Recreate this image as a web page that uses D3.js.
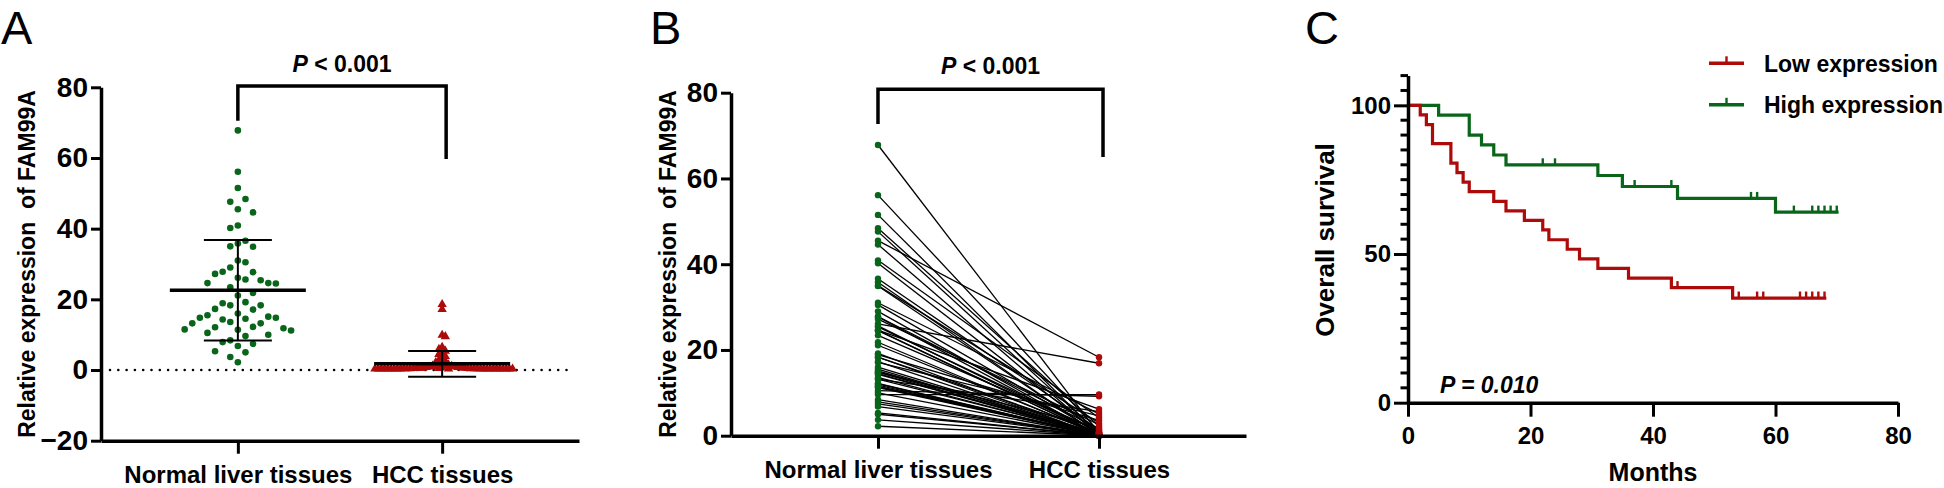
<!DOCTYPE html>
<html>
<head>
<meta charset="utf-8">
<script src="https://cdn.jsdelivr.net/npm/d3@7"></script>
<style>
  body { margin: 0; background: #fff; }
  svg { display: block; font-family: "Liberation Sans", Arial, sans-serif; }
</style>
</head>
<body>
<svg id="chart" width="1944" height="488"></svg>
<script>
// ---- data ----
const categories = ["Normal liver tissues", "HCC tissues"];

// relative expression of FAM99A, normal tissue (one per patient)
const normalValues = [67.8, 56.1, 51.5, 48.4, 47.6, 45.5, 44.6, 40.9, 40.2, 36.6,
  35.8, 35.0, 34.9, 31.0, 30.5, 29.0, 27.8, 27.7, 27.2, 26.1,
  25.6, 25.4, 24.6, 24.6, 24.5, 23.4, 21.8, 21.1, 19.2, 18.9,
  18.3, 18.3, 17.3, 17.1, 16.0, 15.5, 15.1, 14.8, 14.8, 14.5,
  14.3, 13.6, 13.2, 13.2, 12.2, 12.1, 11.8, 11.5, 11.4, 11.2,
  10.5, 10.0, 9.6, 8.4, 7.9, 7.4, 6.8, 5.3, 5.0, 3.7, 2.2];

// paired HCC tissue values (same patient order as normalValues)
const hccValues = [0.5, 1.0, 0.3, 2.2, 0.6, 18.3, 0.2, 4.2, 0.4, 1.4,
  0.1, 3.0, 0.2, 5.1, 0.7, 0.1, 1.6, 0.05, 2.6, 16.9,
  0.3, 0.9, 0.1, 6.2, 0.05, 1.2, 0.2, 0.4, 0.05, 3.6,
  0.1, 0.8, 0.05, 4.6, 0.3, 0.05, 0.6, 0.1, 1.9, 0.05,
  0.5, 0.05, 5.6, 0.2, 0.05, 0.05, 0.05, 0.1, 0.05, 0.05,
  9.2, 0.05, 9.6, 0.05, 0.05, 0.05, 0.05, 0.05, 0.05, 0.05, 0.05];

const yTicksAB = [-20, 0, 20, 40, 60, 80];

// Kaplan-Meier curves (time in months, survival in %)
const lowTimes = [0, 2, 3, 4, 7, 8, 9, 10, 14, 16, 19, 22, 23, 26, 28, 31, 36, 43, 53];
const lowSurv = [100, 96.8, 93.5, 87.1, 80.6, 77.4, 74.2, 71.0, 67.7, 64.5, 61.3, 58.1, 54.8, 51.6, 48.4, 45.2, 41.9, 38.7, 35.2];
const lowCensored = [44, 54, 57, 58, 64, 65, 66, 67, 68];
const lowEnd = 68.3;

const highTimes = [0, 5, 10, 12, 14, 16, 31, 35, 44, 60];
const highSurv = [100, 96.7, 90.0, 86.7, 83.3, 80.0, 76.4, 72.7, 68.7, 64.1];
const highCensored = [22, 24, 37, 43, 56, 57, 63, 66, 67, 68, 69, 70];
const highEnd = 70.3;

const survTicks = [0, 50, 100];
const monthTicks = [0, 20, 40, 60, 80];
const legendLabels = ["Low expression", "High expression"];

const RED = "#ad0a0a";
const GREEN = "#08651a";

const svg = d3.select("#chart");
svg.append("rect").attr("width", 1944).attr("height", 488).attr("fill", "#fff");

function styleAxis(g, size) {
  g.select(".domain").attr("stroke", "#000").attr("stroke-width", 3.5);
  g.selectAll(".tick line").attr("stroke", "#000").attr("stroke-width", 3);
  g.selectAll(".tick text")
    .attr("font-size", size)
    .attr("font-weight", "bold")
    .attr("fill", "#000")
    .attr("font-family", "Liberation Sans, Arial, sans-serif");
}

function panelLetter(x, y, t) {
  svg.append("text").attr("x", x).attr("y", y)
    .attr("font-size", 47).attr("fill", "#000").text(t);
}

function yTitle(x, y, t, size) {
  svg.append("text")
    .attr("transform", `translate(${x},${y}) rotate(-90)`)
    .attr("text-anchor", "middle")
    .attr("font-size", size).attr("font-weight", "bold")
    .style("white-space", "pre")
    .text(t);
}

function pBracket(x1, x2, top, b1, b2, label, labelY) {
  svg.append("path")
    .attr("d", `M${x1},${b1}V${top}H${x2}V${b2}`)
    .attr("fill", "none").attr("stroke", "#000").attr("stroke-width", 3.5);
  const t = svg.append("text").attr("x", (x1 + x2) / 2).attr("y", labelY)
    .attr("text-anchor", "middle").attr("font-size", 23).attr("font-weight", "bold")
    .style("white-space", "pre");
  t.append("tspan").attr("font-style", "italic").text("P");
  t.append("tspan").text(label);
}

// simple column swarm: each point takes the closest free slot to the centre line
function swarm(values, yScale, step, minDy) {
  const order = d3.range(values.length).sort((a, b) => d3.descending(values[a], values[b]));
  const used = [];
  const offs = new Array(values.length);
  let flip = 1;
  order.forEach(i => {
    const y = yScale(values[i]);
    for (let k = 0; k < 200; k++) {
      const cands = k === 0 ? [0] : [k * flip, -k * flip];
      const s = cands.find(c => !used.some(u => u.s === c && Math.abs(u.y - y) < minDy));
      if (s !== undefined) {
        used.push({ s, y });
        offs[i] = s * step;
        if (s !== 0) flip = -flip;
        break;
      }
    }
  });
  return offs;
}

// ================= Panel A =================
{
  const y = d3.scaleLinear().domain([-20, 80]).range([440.7, 87.3]);
  const x = d3.scalePoint().domain(categories).range([101, 579]).padding(0.67);

  panelLetter(1, 44, "A");
  yTitle(35, 264, "Relative expression  of FAM99A", 23);

  // dotted zero line
  svg.append("line")
    .attr("x1", 110).attr("x2", 572).attr("y1", y(0)).attr("y2", y(0))
    .attr("stroke", "#000").attr("stroke-width", 2.6)
    .attr("stroke-linecap", "round").attr("stroke-dasharray", "0,8.3");

  // normal: green dots
  const offN = swarm(normalValues, y, 7.6, 16);
  svg.append("g").selectAll("circle").data(normalValues).join("circle")
    .attr("cx", (d, i) => x(categories[0]) + offN[i])
    .attr("cy", d => y(d)).attr("r", 3.3).attr("fill", GREEN);

  // HCC: red triangles
  const offH = swarm(hccValues, y, 3.2, 4);
  const tri = d3.symbol().type(d3.symbolTriangle).size(38);
  svg.append("g").selectAll("path").data(hccValues).join("path")
    .attr("d", tri)
    .attr("transform", (d, i) => `translate(${x(categories[1]) + offH[i]},${y(d) - 1})`)
    .attr("fill", RED);

  // mean +/- SD
  [[categories[0], normalValues], [categories[1], hccValues]].forEach(([c, vals]) => {
    const m = d3.mean(vals), sd = d3.deviation(vals);
    const cx = x(c);
    const g = svg.append("g").attr("stroke", "#000");
    g.append("line").attr("x1", cx).attr("x2", cx).attr("y1", y(m - sd)).attr("y2", y(m + sd)).attr("stroke-width", 2);
    [m - sd, m + sd].forEach(v => g.append("line").attr("x1", cx - 34).attr("x2", cx + 34)
      .attr("y1", y(v)).attr("y2", y(v)).attr("stroke-width", 2));
    g.append("line").attr("x1", cx - 68).attr("x2", cx + 68).attr("y1", y(m)).attr("y2", y(m)).attr("stroke-width", 3.6);
  });

  const gy = svg.append("g").attr("transform", "translate(101,0)")
    .call(d3.axisLeft(y).tickValues(yTicksAB).tickSize(10).tickSizeOuter(0).tickPadding(3));
  styleAxis(gy, 28);
  const gx = svg.append("g").attr("transform", `translate(0,${y(-20)})`)
    .call(d3.axisBottom(x).tickSize(13).tickSizeOuter(0).tickPadding(12));
  styleAxis(gx, 24);

  pBracket(x(categories[0]), x(categories[1]) + 4, 86, 120.7, 159, " < 0.001", 71.5);
}

// ================= Panel B =================
{
  const y = d3.scaleLinear().domain([0, 80]).range([435.7, 92.7]);
  const x = d3.scalePoint().domain(categories).range([731, 1246]).padding(0.665);

  panelLetter(650, 44, "B");
  yTitle(676, 264, "Relative expression  of FAM99A", 23);

  const x0 = x(categories[0]), x1 = x(categories[1]);
  svg.append("g").selectAll("line").data(normalValues).join("line")
    .attr("x1", x0).attr("x2", x1)
    .attr("y1", d => y(d)).attr("y2", (d, i) => y(hccValues[i]))
    .attr("stroke", "#000").attr("stroke-width", 1.3);

  svg.append("g").selectAll("circle").data(normalValues).join("circle")
    .attr("cx", x0).attr("cy", d => y(d)).attr("r", 3.2).attr("fill", GREEN);
  svg.append("g").selectAll("circle").data(hccValues).join("circle")
    .attr("cx", x1).attr("cy", d => y(d)).attr("r", 3.2).attr("fill", RED);

  const gy = svg.append("g").attr("transform", "translate(731,0)")
    .call(d3.axisLeft(y).tickValues(yTicksAB.filter(v => v >= 0)).tickSize(10).tickSizeOuter(0).tickPadding(3));
  styleAxis(gy, 28);
  const gx = svg.append("g").attr("transform", `translate(0,${y(0)})`)
    .call(d3.axisBottom(x).tickSize(13).tickSizeOuter(0).tickPadding(12));
  styleAxis(gx, 24);

  pBracket(x0, x1 + 4, 89.3, 124, 157, " < 0.001", 74);
}

// ================= Panel C =================
{
  const x = d3.scaleLinear().domain([0, 80]).range([1408, 1898]);
  const y = d3.scaleLinear().domain([0, 110]).range([402.7, 75.6]);

  panelLetter(1305, 44, "C");
  yTitle(1334, 240, "Overall survival", 26);

  const series = [
    { times: lowTimes, surv: lowSurv, cens: lowCensored, end: lowEnd, color: RED },
    { times: highTimes, surv: highSurv, cens: highCensored, end: highEnd, color: GREEN }
  ];
  const line = d3.line().x(d => x(d[0])).y(d => y(d[1])).curve(d3.curveStepAfter);

  // draw high first so the low curve sits on top at the shared start
  series.slice().reverse().forEach(s => {
    const pts = s.times.map((t, i) => [t, s.surv[i]]);
    pts.push([s.end, s.surv[s.surv.length - 1]]);
    svg.append("path").attr("d", line(pts))
      .attr("fill", "none").attr("stroke", s.color).attr("stroke-width", 3.2);
    const survAt = t => s.surv[d3.bisectRight(s.times, t) - 1];
    svg.append("g").selectAll("line").data(s.cens).join("line")
      .attr("x1", d => x(d)).attr("x2", d => x(d))
      .attr("y1", d => y(survAt(d))).attr("y2", d => y(survAt(d)) - 6.5)
      .attr("stroke", s.color).attr("stroke-width", 2.4);
  });

  const gy = svg.append("g").attr("transform", `translate(${x(0)},0)`)
    .call(d3.axisLeft(y).tickValues(survTicks).tickSize(14).tickSizeOuter(0).tickPadding(3));
  styleAxis(gy, 24);
  // minor ticks every 5 %
  svg.append("g").selectAll("line")
    .data(d3.range(0, 111, 5).filter(v => !survTicks.includes(v)))
    .join("line")
    .attr("x1", x(0) - 7.5).attr("x2", x(0)).attr("y1", d => y(d)).attr("y2", d => y(d))
    .attr("stroke", "#000").attr("stroke-width", 3);

  const gx = svg.append("g").attr("transform", `translate(0,${y(0)})`)
    .call(d3.axisBottom(x).tickValues(monthTicks).tickSize(14).tickSizeOuter(0).tickPadding(10));
  styleAxis(gx, 24);

  svg.append("text").attr("x", x(40)).attr("y", 481).attr("text-anchor", "middle")
    .attr("font-size", 25).attr("font-weight", "bold").text("Months");

  svg.append("text").attr("x", 1440).attr("y", 393)
    .attr("font-size", 23).attr("font-weight", "bold").attr("font-style", "italic")
    .text("P = 0.010");

  // legend
  const lg = svg.append("g").selectAll("g").data(legendLabels).join("g")
    .attr("transform", (d, i) => `translate(1709,${63.3 + i * 41.5})`);
  lg.append("line").attr("x1", 0).attr("x2", 35)
    .attr("stroke", (d, i) => series[i].color).attr("stroke-width", 3.5);
  lg.append("line").attr("x1", 17.5).attr("x2", 17.5).attr("y1", 0).attr("y2", -7)
    .attr("stroke", (d, i) => series[i].color).attr("stroke-width", 2.4);
  lg.append("text").attr("x", 55).attr("y", 8.5)
    .attr("font-size", 23).attr("font-weight", "bold").text(d => d);
}
</script>
</body>
</html>
